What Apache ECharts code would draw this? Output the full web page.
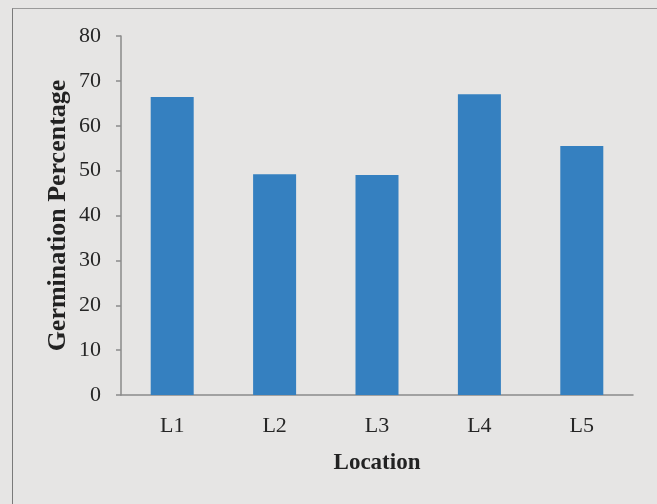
<!DOCTYPE html>
<html><head><meta charset="utf-8">
<script src="https://cdn.jsdelivr.net/npm/echarts@6/dist/echarts.min.js"></script>
<style>
html,body{margin:0;padding:0;background:#e6e5e4;}
#frame{position:absolute;left:12px;top:8px;width:660px;height:510px;border-left:1.5px solid #7a7a7a;border-top:1.5px solid #9a9a9a;box-sizing:border-box;}
#c{position:absolute;left:0;top:0;width:657px;height:504px;}
</style></head>
<body>
<div id="frame"></div>
<div id="c"></div>
<script>
const categories = ['L1', 'L2', 'L3', 'L4', 'L5'];
const germination = [66.4, 49.2, 49.0, 67.0, 55.5];
const yTicks = { min: 0, max: 80, interval: 10 };

const chart = echarts.init(document.getElementById('c'), null, { renderer: 'canvas' });
const serif = '"Liberation Serif", "DejaVu Serif", serif';
chart.setOption({
  backgroundColor: 'transparent',
  animation: false,
  grid: { left: 121, right: 24, top: 36, bottom: 109, containLabel: false },
  xAxis: {
    type: 'category',
    data: categories,
    name: 'Location',
    nameLocation: 'middle',
    nameGap: 57,
    nameMoveOverlap: false,
    nameTextStyle: { fontFamily: serif, fontSize: 23, fontWeight: 'bold', color: '#222222' },
    axisLine: { lineStyle: { color: '#8a8a8a', width: 1.5 } },
    axisTick: { show: false },
    axisLabel: { fontFamily: serif, fontSize: 22, color: '#262626', margin: 20 }
  },
  yAxis: {
    type: 'value',
    min: yTicks.min, max: yTicks.max, interval: yTicks.interval,
    name: 'Germination Percentage',
    nameLocation: 'middle',
    nameGap: 50,
    nameMoveOverlap: false,
    nameTextStyle: { fontFamily: serif, fontSize: 26, fontWeight: 'bold', color: '#222222' },
    axisLine: { show: true, lineStyle: { color: '#8a8a8a', width: 1.5 } },
    axisTick: { show: true, length: 5, lineStyle: { color: '#8a8a8a', width: 1.5 } },
    splitLine: { show: false },
    axisLabel: { fontFamily: serif, fontSize: 22, color: '#262626', margin: 20 }
  },
  series: [{
    type: 'bar',
    data: germination,
    barCategoryGap: '58%',
    itemStyle: { color: '#3580c0' }
  }]
});
</script>
</body></html>
